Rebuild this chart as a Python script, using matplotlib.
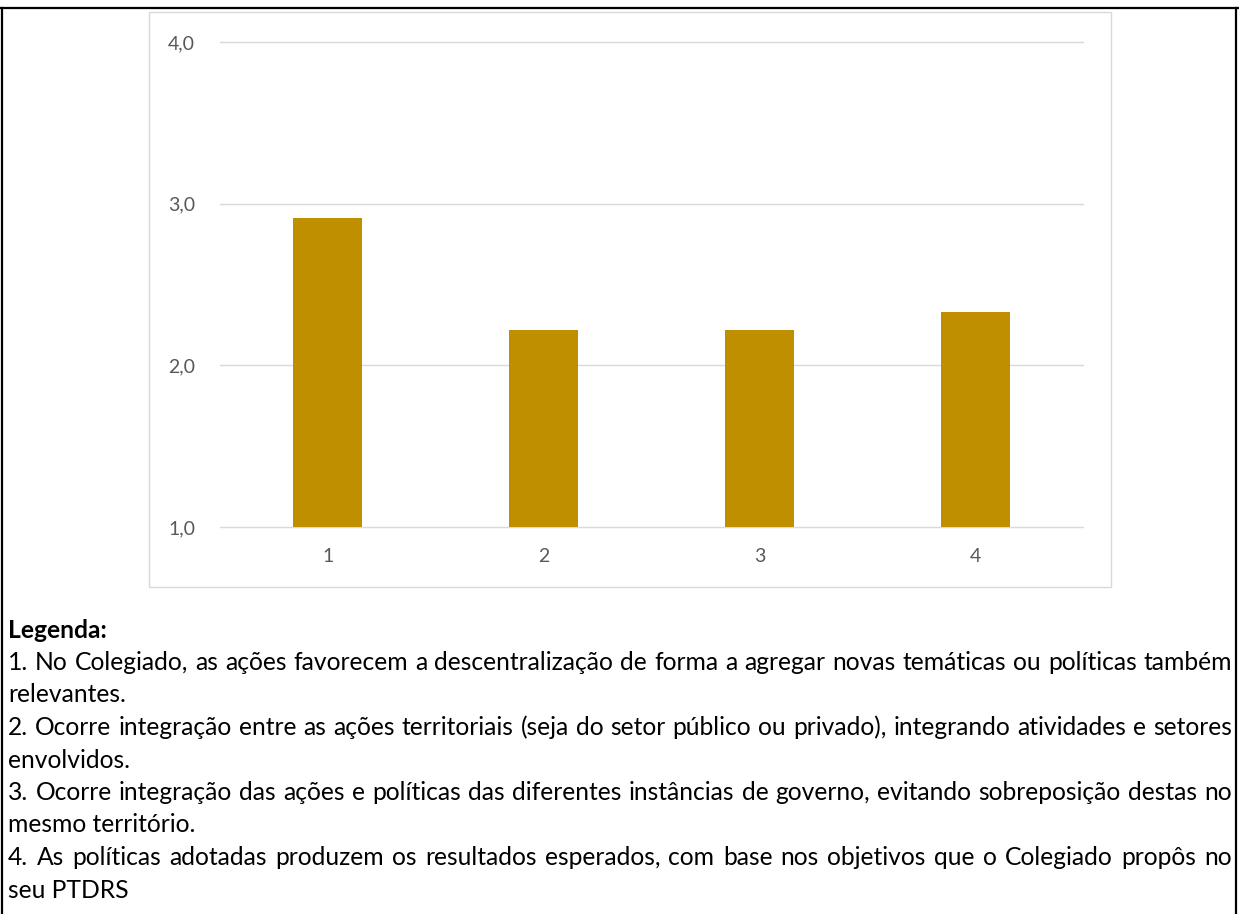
import matplotlib
matplotlib.use("Agg")
import matplotlib.pyplot as plt
from matplotlib.patches import Rectangle
from matplotlib.lines import Line2D

# ---- data ----
categories = ["1", "2", "3", "4"]
values = [2.91, 2.22, 2.22, 2.33]
ytick_values = [1.0, 2.0, 3.0, 4.0]
ytick_labels = ["1,0", "2,0", "3,0", "4,0"]

legend_title = "Legenda:"
legend_lines = [
    ("1. No Colegiado, as ações favorecem a descentralização de forma a agregar novas temáticas ou políticas também", True),
    ("relevantes.", False),
    ("2. Ocorre integração entre as ações territoriais (seja do setor público ou privado), integrando atividades e setores", True),
    ("envolvidos.", False),
    ("3. Ocorre integração das ações e políticas das diferentes instâncias de governo, evitando sobreposição destas no", True),
    ("mesmo território.", False),
    ("4. As políticas adotadas produzem os resultados esperados, com base nos objetivos que o Colegiado propôs no", True),
    ("seu PTDRS", False),
]

W, H = 1239, 914
DPI = 100
fig = plt.figure(figsize=(W / DPI, H / DPI), dpi=DPI)
fig.patch.set_facecolor("white")

def fx(px):
    return px / W

def fy(py):
    return 1 - py / H

# outer black frame (top, left, right)
for (x0, y0, x1, y1) in [(0, 8, W, 8), (2, 8, 2, H), (1236, 8, 1236, H)]:
    fig.add_artist(Line2D([fx(x0), fx(x1)], [fy(y0), fy(y1)], color="black", lw=1.6,
                          transform=fig.transFigure))

# chart box
fig.add_artist(Rectangle((fx(149), fy(587)), fx(1111) - fx(149), fy(12) - fy(587),
                         transform=fig.transFigure, facecolor="white",
                         edgecolor="#d9d9d9", lw=1.0, zorder=0))

# axes
ax = fig.add_axes([fx(220), fy(527), fx(1083) - fx(220), fy(42) - fy(527)])
ax.set_facecolor("none")
x = list(range(1, len(categories) + 1))
ax.bar(x, values, width=0.32, bottom=0, color="#BF8F00", zorder=3)
ax.set_xlim(0.5, len(categories) + 0.5)
ax.set_ylim(1.0, 4.0)
ax.set_yticks(ytick_values)
ax.set_yticklabels(ytick_labels)
ax.set_xticks(x)
ax.set_xticklabels(categories)
for s in ax.spines.values():
    s.set_visible(False)
for v in ytick_values:
    ax.axhline(v, color="#d9d9d9", lw=1.0, zorder=1, clip_on=False)
ax.tick_params(axis="both", length=0, labelsize=14, labelcolor="#595959")
ax.tick_params(axis="x", pad=15)
ax.tick_params(axis="y", pad=18)
for lab in ax.get_xticklabels() + ax.get_yticklabels():
    lab.set_fontfamily("Lato")

# legend text, justified
font = "Lato"
renderer = fig.canvas.get_renderer()
left_px, right_px = 8, 1232

def text_width(s, fs, weight="normal"):
    t = fig.text(0, 0, s, fontsize=fs, family=font, weight=weight)
    w = t.get_window_extent(renderer=renderer).width
    t.remove()
    return w

# fit font size so the longest justified line fits naturally
base_fs = 15
max_w = max(text_width(s, base_fs) for s, j in legend_lines)
fs = base_fs * (right_px - left_px - 6) / max_w

y0_px = 630
step = 32.5
fig.text(fx(left_px), fy(y0_px), legend_title, fontsize=fs, family=font, weight="bold",
         va="center", ha="left", color="black")

for i, (line, justify) in enumerate(legend_lines):
    ypx = y0_px + step * (i + 1)
    if not justify:
        fig.text(fx(left_px), fy(ypx), line, fontsize=fs, family=font, va="center",
                 ha="left", color="black")
        continue
    words = line.split(" ")
    widths = [text_width(w, fs) for w in words]
    gap = (right_px - left_px - sum(widths)) / (len(words) - 1)
    xpos = left_px
    for w, wd in zip(words, widths):
        fig.text(fx(xpos), fy(ypx), w, fontsize=fs, family=font, va="center",
                 ha="left", color="black")
        xpos += wd + gap

fig.savefig("out.png", dpi=DPI, facecolor="white")
